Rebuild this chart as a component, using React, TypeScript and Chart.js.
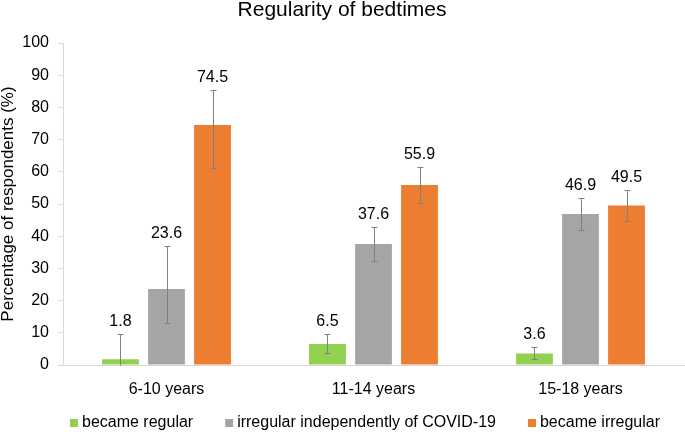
import React, { useEffect, useRef } from "react";
import { Chart, registerables } from "chart.js";

Chart.register(...registerables);

const categories = ["6-10 years", "11-14 years", "15-18 years"];
const seriesNames = [
  "became regular",
  "irregular independently of COVID-19",
  "became irregular",
];
const becameRegular = [1.8, 6.5, 3.6];
const irregularIndependently = [23.6, 37.6, 46.9];
const becameIrregular = [74.5, 55.9, 49.5];

const becameRegularLow = [-6.3, 3.8, 1.8];
const becameRegularHigh = [9.6, 9.6, 5.7];
const irregularIndependentlyLow = [12.9, 32.3, 41.8];
const irregularIndependentlyHigh = [37.0, 42.9, 51.8];
const becameIrregularLow = [61.1, 50.2, 44.6];
const becameIrregularHigh = [85.4, 61.4, 54.4];

const yMin = 0;
const yMax = 100;
const yStep = 10;

const FONT = '"Liberation Sans", Arial, sans-serif';
const COLORS = ["#92D050", "#A5A5A5", "#ED7D31"];

const errorLows = [becameRegularLow, irregularIndependentlyLow, becameIrregularLow];
const errorHighs = [becameRegularHigh, irregularIndependentlyHigh, becameIrregularHigh];

const errorBarPlugin = {
  id: "errorBarsAndLabels",
  afterDatasetsDraw(chart: any) {
    const { ctx, chartArea } = chart;
    const yScale = chart.scales.y;
    ctx.save();
    ctx.beginPath();
    ctx.rect(chartArea.left, chartArea.top, chartArea.right - chartArea.left, chartArea.bottom - chartArea.top + 0.5);
    ctx.clip();
    ctx.strokeStyle = "#808080";
    ctx.lineWidth = 1;
    chart.data.datasets.forEach((ds: any, i: number) => {
      const meta = chart.getDatasetMeta(i);
      meta.data.forEach((el: any, j: number) => {
        const x = Math.round(el.x) + 0.5;
        const yHi = Math.round(yScale.getPixelForValue(errorHighs[i][j])) + 0.5;
        const yLo = Math.round(yScale.getPixelForValue(errorLows[i][j])) + 0.5;
        ctx.beginPath();
        ctx.moveTo(x, yHi);
        ctx.lineTo(x, yLo);
        ctx.moveTo(x - 3, yHi);
        ctx.lineTo(x + 3, yHi);
        ctx.moveTo(x - 3, yLo);
        ctx.lineTo(x + 3, yLo);
        ctx.stroke();
      });
    });
    ctx.restore();

    ctx.save();
    ctx.fillStyle = "#000";
    ctx.font = `16px ${FONT}`;
    ctx.textAlign = "center";
    ctx.textBaseline = "alphabetic";
    chart.data.datasets.forEach((ds: any, i: number) => {
      const meta = chart.getDatasetMeta(i);
      meta.data.forEach((el: any, j: number) => {
        const yHi = yScale.getPixelForValue(errorHighs[i][j]);
        ctx.fillText(Number(ds.data[j]).toFixed(1), el.x, yHi - 8);
      });
    });
    ctx.restore();
  },
};

const legendPlugin = {
  id: "bottomLegend",
  afterDraw(chart: any) {
    const { ctx } = chart;
    ctx.save();
    ctx.font = `16px ${FONT}`;
    ctx.textBaseline = "middle";
    ctx.textAlign = "left";
    const box = 8;
    const gap = 4;
    const spacing = 32;
    const items = chart.data.datasets.map((ds: any) => ({
      text: ds.label,
      color: ds.backgroundColor,
    }));
    const widths = items.map((it: any) => box + gap + ctx.measureText(it.text).width);
    const total = widths.reduce((a: number, b: number) => a + b, 0) + spacing * (items.length - 1);
    let x = 365 - total / 2;
    const y = 423;
    items.forEach((it: any, k: number) => {
      ctx.fillStyle = it.color;
      ctx.fillRect(x, y - box / 2, box, box);
      ctx.fillStyle = "#000";
      ctx.fillText(it.text, x + box + gap, y);
      x += widths[k] + spacing;
    });
    ctx.restore();
  },
};

export default function App() {
  const canvasRef = useRef<HTMLCanvasElement | null>(null);

  useEffect(() => {
    document.body.style.margin = "0";
    const canvas = canvasRef.current;
    if (!canvas) return;
    const chart = new Chart(canvas, {
      type: "bar",
      data: {
        labels: categories,
        datasets: [
          { label: seriesNames[0], data: becameRegular, backgroundColor: COLORS[0] },
          { label: seriesNames[1], data: irregularIndependently, backgroundColor: COLORS[1] },
          { label: seriesNames[2], data: becameIrregular, backgroundColor: COLORS[2] },
        ],
      },
      options: {
        animation: false,
        responsive: false,
        devicePixelRatio: 1,
        layout: { padding: { top: 0, right: 1, bottom: 27, left: 0 } },
        datasets: {
          bar: { categoryPercentage: 0.667, barPercentage: 0.8 },
        },
        plugins: {
          legend: { display: false },
          tooltip: { enabled: false },
          title: {
            display: true,
            text: "Regularity of bedtimes",
            color: "#000",
            font: { family: FONT, size: 21, weight: "normal", lineHeight: 1 },
            padding: { top: 0, bottom: 22 },
          },
        },
        scales: {
          x: {
            grid: { display: false },
            border: { display: true, color: "#d9d9d9", width: 1 },
            ticks: {
              color: "#000",
              font: { family: FONT, size: 16 },
              padding: 7,
            },
            afterFit: (axis: any) => {
              axis.height = 40;
            },
          },
          y: {
            min: yMin,
            max: yMax,
            ticks: {
              stepSize: yStep,
              color: "#000",
              font: { family: FONT, size: 16 },
              padding: 9,
            },
            grid: {
              display: true,
              drawOnChartArea: false,
              drawTicks: true,
              tickLength: 5,
              color: "#d9d9d9",
            },
            border: { display: true, color: "#d9d9d9", width: 1 },
            title: {
              display: true,
              text: "Percentage of respondents (%)",
              color: "#000",
              font: { family: FONT, size: 17, lineHeight: 1 },
              padding: { top: 0, bottom: 0 },
            },
            afterFit: (axis: any) => {
              axis.width = 63;
            },
          },
        },
      },
      plugins: [errorBarPlugin, legendPlugin],
    });
    return () => {
      chart.destroy();
    };
  }, []);

  return (
    <div style={{ width: 685, height: 432 }}>
      <canvas ref={canvasRef} width={685} height={432} style={{ display: "block" }} />
    </div>
  );
}
